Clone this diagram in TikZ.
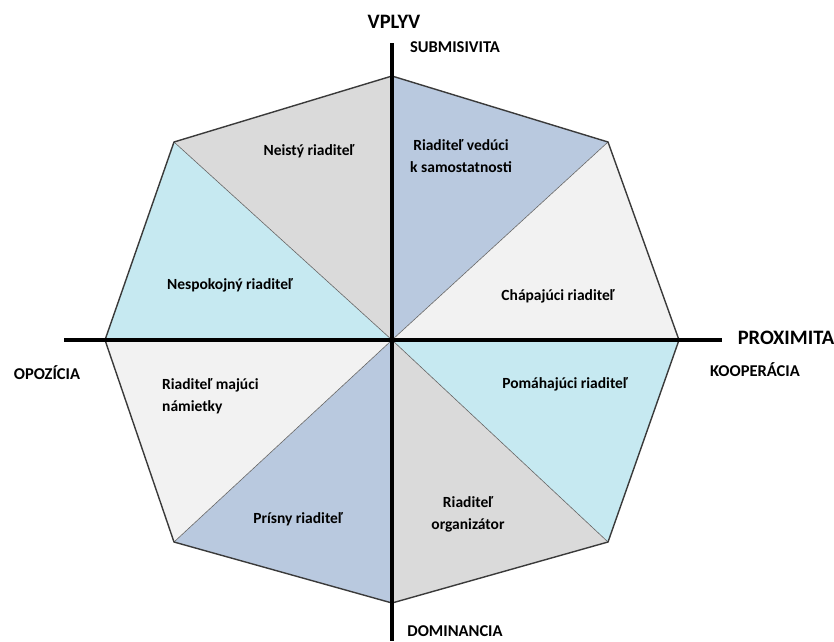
\documentclass[tikz,border=0pt]{standalone}
\usepackage{fontspec}
\setmainfont{Carlito}
\definecolor{cgray}{HTML}{DADADA}
\definecolor{cblue}{HTML}{B9C9DF}
\definecolor{ccyan}{HTML}{C6E9F1}
\definecolor{clight}{HTML}{F2F2F2}
\definecolor{edgec}{HTML}{3A3A3A}
\tikzset{
  sector/.style={draw=gray!80!black, line width=0.6pt},
  lbl/.style={font=\bfseries\fontsize{15.5}{22}\selectfont, align=center, inner sep=0pt},
  axislbl/.style={font=\bfseries\fontsize{16.5}{18}\selectfont, inner sep=0pt},
  axistitle/.style={font=\bfseries\fontsize{20.5}{22}\selectfont, inner sep=0pt},
  axisline/.style={line width=3.2pt, black}
}
\begin{document}
\begin{tikzpicture}[x=1pt,y=-1pt]
\useasboundingbox (0,0) rectangle (834,641);
\coordinate (C) at (392,340);
\coordinate (T) at (392,76);
\coordinate (TR) at (608,142);
\coordinate (R) at (679,340);
\coordinate (BR) at (608,542);
\coordinate (B) at (392,603);
\coordinate (BL) at (174,542);
\coordinate (L) at (105,340);
\coordinate (TL) at (174,142);
\fill[cblue] (C) -- (T) -- (TR) -- cycle;
\fill[clight] (C) -- (TR) -- (R) -- cycle;
\fill[ccyan] (C) -- (R) -- (BR) -- cycle;
\fill[cgray] (C) -- (BR) -- (B) -- cycle;
\fill[cblue] (C) -- (B) -- (BL) -- cycle;
\fill[clight] (C) -- (BL) -- (L) -- cycle;
\fill[ccyan] (C) -- (L) -- (TL) -- cycle;
\fill[cgray] (C) -- (TL) -- (T) -- cycle;
\draw[sector] (C) -- (TR) (C) -- (BR) (C) -- (BL) (C) -- (TL);
\draw[edgec, line width=1.4pt, line join=miter] (T) -- (TR) -- (R) -- (BR) -- (B) -- (BL) -- (L) -- (TL) -- cycle;
\coordinate (VT) at (392,43);
\coordinate (VB) at (392,641);
\coordinate (HL) at (64,340);
\coordinate (HR) at (722,340);
\draw[axisline] (VT) -- (VB);
\draw[axisline] (HL) -- (HR);
\node[lbl] (n1) at (309,151) {Neistý riaditeľ};
\node[lbl] (n2) at (461,156) {Riaditeľ vedúci\\k samostatnosti};
\node[lbl] (n3) at (230,285) {Nespokojný riaditeľ};
\node[lbl] (n4) at (558,296) {Chápajúci riaditeľ};
\node[lbl] (n5) at (565,384) {Pomáhajúci riaditeľ};
\node[lbl, align=left, anchor=west] (n6) at (162,396) {Riaditeľ majúci\\námietky};
\node[lbl] (n7) at (468,514) {Riaditeľ\\organizátor};
\node[lbl] (n8) at (298,519) {Prísny riaditeľ};
\node[axistitle] (vplyv) at (394,22) {VPLYV};
\node[axislbl] (sub) at (455,47) {SUBMISIVITA};
\node[axistitle] (prox) at (786,338) {PROXIMITA};
\node[axislbl] (koop) at (755,370) {KOOPERÁCIA};
\node[axislbl] (opoz) at (47,373) {OPOZÍCIA};
\node[axislbl, anchor=base] (dom) at (455,636) {DOMINANCIA};
\end{tikzpicture}
\end{document}
